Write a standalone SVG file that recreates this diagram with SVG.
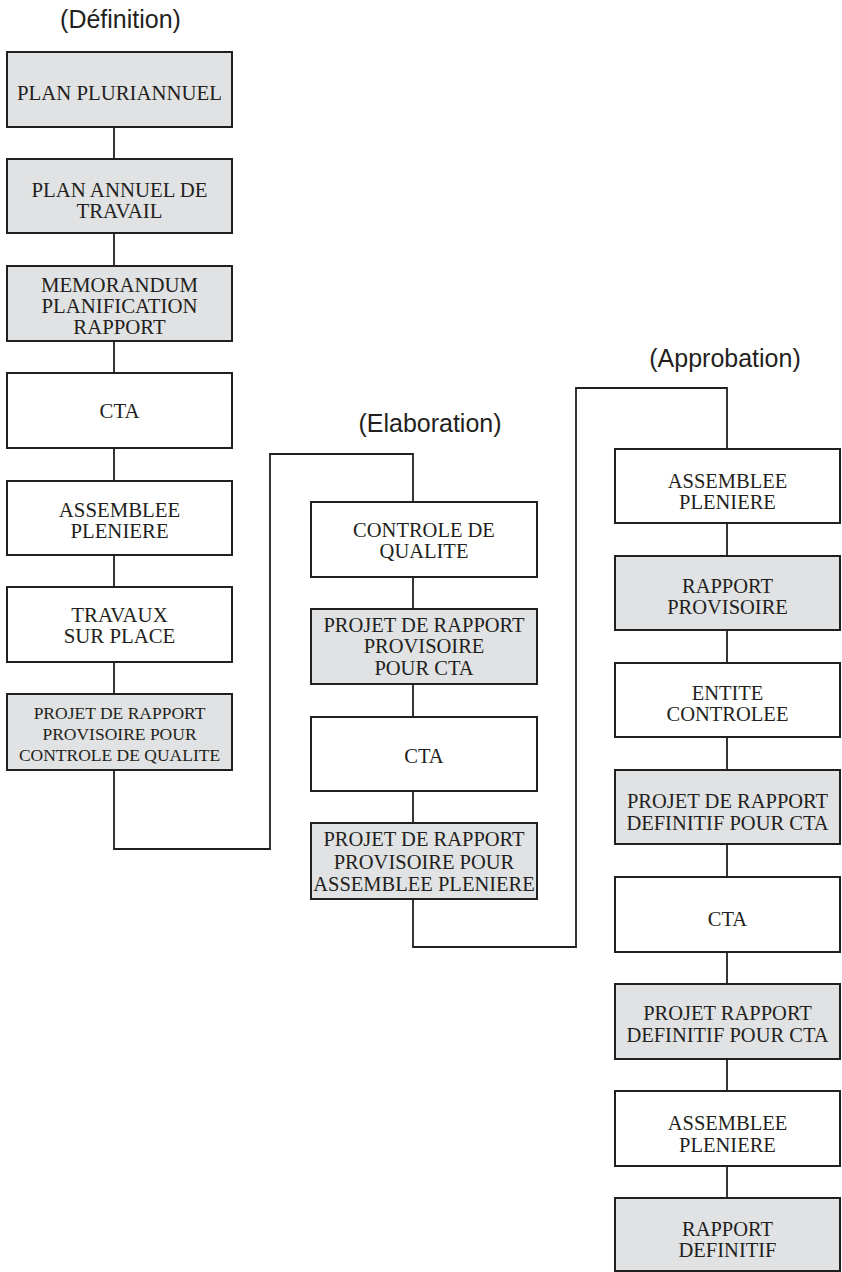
<svg xmlns="http://www.w3.org/2000/svg" width="842" height="1272" viewBox="0 0 842 1272">
<style>
.box{stroke:#231f20;stroke-width:2;fill:#ffffff}
.gray{fill:#e1e2e3}
.t{font-family:"Liberation Serif","Times New Roman",serif;fill:#231f20;text-anchor:middle}
.c1{font-size:20.8px}
.c2{font-size:20.5px}
.sm{font-size:17.5px}
.title{font-family:"Liberation Sans",Arial,Helvetica,sans-serif;font-size:25px;fill:#231f20;text-anchor:middle}
.conn{stroke:#231f20;stroke-width:1.8;fill:none}
</style>
<rect width="842" height="1272" fill="#ffffff"/>
<g id="titles">
<text class="title" x="120.5" y="28">(Définition)</text>
<text class="title" x="430" y="432">(Elaboration)</text>
<text class="title" x="725" y="367">(Approbation)</text>
</g>
<g id="connectors">
<path class="conn" d="M114,127V159M114,233V266M114,341V373M114,448V481M114,555V587M114,662V694"/>
<path class="conn" d="M114,770V849H270V454H413V502"/>
<path class="conn" d="M413,577V609M413,684V717M413,791V823"/>
<path class="conn" d="M413,899V947H576V388H727V449"/>
<path class="conn" d="M727,523V556M727,630V663M727,737V770M727,844V877M727,952V984M727,1059V1091M727,1166V1198"/>
</g>
<g id="n1"><rect class="box gray" x="7" y="52" width="225" height="75"/><text class="t c1" x="119.5" y="100">PLAN PLURIANNUEL</text></g>
<g id="n2"><rect class="box gray" x="7" y="159" width="225" height="74"/><text class="t c1" x="119.5" y="196.5">PLAN ANNUEL DE<tspan x="119.5" dy="21">TRAVAIL</tspan></text></g>
<g id="n3"><rect class="box gray" x="7" y="266" width="225" height="75"/><text class="t c1" x="119.5" y="291.5">MEMORANDUM<tspan x="119.5" dy="21">PLANIFICATION</tspan><tspan x="119.5" dy="21">RAPPORT</tspan></text></g>
<g id="n4"><rect class="box" x="7" y="373" width="225" height="75"/><text class="t c1" x="119.5" y="418">CTA</text></g>
<g id="n5"><rect class="box" x="7" y="481" width="225" height="74"/><text class="t c1" x="119.5" y="516.5">ASSEMBLEE<tspan x="119.5" dy="21">PLENIERE</tspan></text></g>
<g id="n6"><rect class="box" x="7" y="587" width="225" height="75"/><text class="t c1" x="119.5" y="622">TRAVAUX<tspan x="119.5" dy="21">SUR PLACE</tspan></text></g>
<g id="n7"><rect class="box gray" x="7" y="694" width="225" height="76"/><text class="t sm" x="119.5" y="719">PROJET DE RAPPORT<tspan x="119.5" dy="21">PROVISOIRE POUR</tspan><tspan x="119.5" dy="21">CONTROLE DE QUALITE</tspan></text></g>
<g id="e1"><rect class="box" x="311" y="502" width="226" height="75"/><text class="t c2" x="424" y="537">CONTROLE DE<tspan x="424" dy="21">QUALITE</tspan></text></g>
<g id="e2"><rect class="box gray" x="311" y="609" width="226" height="75"/><text class="t c2" x="424" y="632">PROJET DE RAPPORT<tspan x="424" dy="21">PROVISOIRE</tspan><tspan x="424" dy="21.5">POUR CTA</tspan></text></g>
<g id="e3"><rect class="box" x="311" y="717" width="226" height="74"/><text class="t c2" x="424" y="762.5">CTA</text></g>
<g id="e4"><rect class="box gray" x="311" y="823" width="226" height="76"/><text class="t c2" x="424" y="845.5">PROJET DE RAPPORT<tspan x="424" dy="23">PROVISOIRE POUR</tspan><tspan x="424" dy="22">ASSEMBLEE PLENIERE</tspan></text></g>
<g id="a1"><rect class="box" x="615" y="449" width="225" height="74"/><text class="t c2" x="727.5" y="487.5">ASSEMBLEE<tspan x="727.5" dy="21">PLENIERE</tspan></text></g>
<g id="a2"><rect class="box gray" x="615" y="556" width="225" height="74"/><text class="t c2" x="727.5" y="592.5">RAPPORT<tspan x="727.5" dy="21">PROVISOIRE</tspan></text></g>
<g id="a3"><rect class="box" x="615" y="663" width="225" height="74"/><text class="t c2" x="727.5" y="699.5">ENTITE<tspan x="727.5" dy="21">CONTROLEE</tspan></text></g>
<g id="a4"><rect class="box gray" x="615" y="770" width="225" height="74"/><text class="t c2" x="727.5" y="807.5">PROJET DE RAPPORT<tspan x="727.5" dy="22">DEFINITIF POUR CTA</tspan></text></g>
<g id="a5"><rect class="box" x="615" y="877" width="225" height="75"/><text class="t c2" x="727.5" y="925.5">CTA</text></g>
<g id="a6"><rect class="box gray" x="615" y="984" width="225" height="75"/><text class="t c2" x="727.5" y="1020">PROJET RAPPORT<tspan x="727.5" dy="21.5">DEFINITIF POUR CTA</tspan></text></g>
<g id="a7"><rect class="box" x="615" y="1091" width="225" height="75"/><text class="t c2" x="727.5" y="1130">ASSEMBLEE<tspan x="727.5" dy="21.5">PLENIERE</tspan></text></g>
<g id="a8"><rect class="box gray" x="615" y="1198" width="225" height="73"/><text class="t c2" x="727.5" y="1236">RAPPORT<tspan x="727.5" dy="21">DEFINITIF</tspan></text></g>
</svg>
